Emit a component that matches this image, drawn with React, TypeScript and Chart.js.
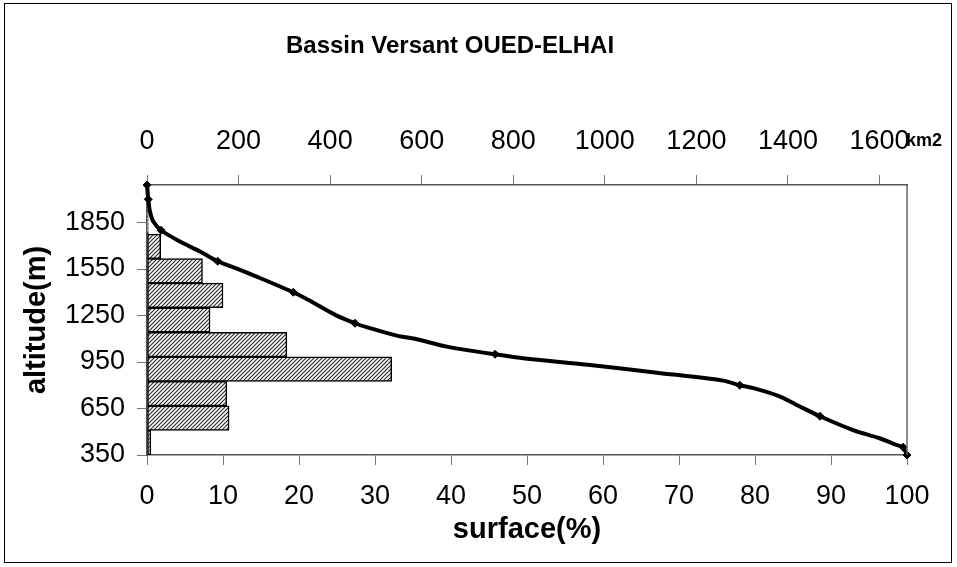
import { useEffect, useRef } from "react";
import { Chart, registerables } from "chart.js";

Chart.register(...registerables);

const FONT = '"Liberation Sans", Arial, Helvetica, sans-serif';

// Altitude classes (bars) and their share of the basin surface (%)
const classLabels = ["350-400", "400-600", "600-800", "800-1000", "1000-1200", "1200-1400", "1400-1600", "1600-1800", "1800-2000", "2000-2092", ""];
const classShare = [0.5, 10.8, 10.5, 32.2, 18.4, 8.3, 10.0, 7.3, 1.8, 0.17, null];

// Hypsometric curve: cumulative surface (%) vs altitude (m)
const cumSurface = [0, 0.17, 0.39, 0.83, 1.85, 4.34, 6.97, 9.3, 12.24, 13.55, 19.25, 21.2, 24.96, 27.37, 28.9, 32.86, 35.49, 39.43, 43.38, 45.8, 49.5, 58.3, 67.1, 75.8, 78.0, 79.8, 83.07, 85.5, 88.55, 92.9, 96.4, 98.6, 99.5, 100];
const altitudes = [2092, 2000, 1921, 1856, 1800, 1727, 1663, 1600, 1545, 1519, 1400, 1351, 1249, 1200, 1175, 1120, 1097, 1049, 1017, 1000, 974, 931, 881, 830, 800, 781, 731, 673, 600, 511, 458, 415, 400, 350];
const markerAltitudes = [2092, 2000, 1800, 1600, 1400, 1200, 1000, 800, 600, 400, 350];

// Axis ticks
const altitudeTicks = [350, 650, 950, 1250, 1550, 1850];
const surfaceTicksStep = 10;
const areaTicksStep = 200;
const totalAreaKm2 = 1660;
const altMin = 350;
const altMax = 2092;

const TITLE = "Bassin Versant OUED-ELHAI";

export default function App() {
  const ref = useRef<HTMLCanvasElement>(null);

  useEffect(() => {
    document.body.style.margin = "0";
    const canvas = ref.current!;
    const tile = document.createElement("canvas");
    tile.width = 4;
    tile.height = 4;
    const t = tile.getContext("2d")!;
    t.fillStyle = "#ffffff";
    t.fillRect(0, 0, 4, 4);
    t.strokeStyle = "#2e2e2e";
    t.lineWidth = 1.2;
    t.beginPath();
    t.moveTo(-1, 5);
    t.lineTo(5, -1);
    t.moveTo(-1, 1);
    t.lineTo(1, -1);
    t.moveTo(3, 5);
    t.lineTo(5, 3);
    t.stroke();
    const pattern = canvas.getContext("2d")!.createPattern(tile, "repeat");

    const deco = {
      id: "deco",
      beforeDraw(chart: any) {
        const ctx = chart.ctx;
        ctx.save();
        ctx.fillStyle = "#ffffff";
        ctx.fillRect(0, 0, chart.width, chart.height);
        ctx.strokeStyle = "#000000";
        ctx.lineWidth = 1;
        ctx.strokeRect(4.5, 3.5, 947, 559);
        ctx.restore();
      },
      afterDraw(chart: any) {
        const ctx = chart.ctx;
        const a = chart.chartArea;
        ctx.save();
        ctx.strokeStyle = "#666666";
        ctx.lineWidth = 1.5;
        ctx.beginPath();
        ctx.moveTo(a.right, a.top);
        ctx.lineTo(a.right, a.bottom);
        ctx.stroke();
        ctx.fillStyle = "#000000";
        ctx.textBaseline = "middle";
        ctx.textAlign = "center";
        ctx.font = `bold 24px ${FONT}`;
        ctx.fillText(TITLE, 450, 46);
        ctx.textAlign = "left";
        ctx.font = `bold 18px ${FONT}`;
        ctx.fillText("km2", 906, 141);
        ctx.restore();
      },
    };

    const tickFont = { family: FONT, size: 27 };
    const titleFont = { family: FONT, size: 29, weight: "bold" as const };
    const grid = { drawOnChartArea: false, drawTicks: true, tickLength: 10, color: "#777777", lineWidth: 1, offset: false };
    const border = { display: true, color: "#555555", width: 1.5 };

    const chart = new Chart(canvas, {
      type: "bar",
      data: {
        datasets: [
          {
            type: "line",
            data: cumSurface.map((x, i) => ({ x, y: altitudes[i] })),
            xAxisID: "x",
            yAxisID: "y",
            borderColor: "#000000",
            borderWidth: 4,
            tension: 0.3,
            fill: false,
            clip: false,
            order: 0,
            pointStyle: "rectRot",
            pointRadius: (ctx: any) => (markerAltitudes.includes(altitudes[ctx.dataIndex]) ? 4 : 0),
            pointBackgroundColor: "#000000",
            pointBorderColor: "#000000",
            pointBorderWidth: 1,
          } as any,
          {
            type: "bar",
            indexAxis: "y",
            data: classShare,
            xAxisID: "x",
            yAxisID: "yCat",
            backgroundColor: pattern as any,
            borderColor: "#000000",
            borderWidth: 1.5,
            borderSkipped: false,
            barPercentage: 1,
            categoryPercentage: 1,
            order: 1,
          } as any,
        ],
      },
      options: {
        responsive: false,
        animation: false,
        layout: { padding: { left: 0, right: 50, top: 0, bottom: 0 } },
        plugins: { legend: { display: false }, tooltip: { enabled: false }, title: { display: false } },
        scales: {
          x: {
            type: "linear",
            position: "bottom",
            offset: false,
            min: 0,
            max: 100,
            ticks: { stepSize: surfaceTicksStep, color: "#000", font: tickFont, padding: 15, maxRotation: 0, autoSkip: false, callback: (v: any) => String(v) },
            grid,
            border,
            title: { display: true, text: "surface(%)", color: "#000", font: titleFont, padding: { top: 0, bottom: 20 } },
            afterFit: (s: any) => {
              s.height = 112;
            },
          },
          x2: {
            type: "linear",
            position: "top",
            offset: false,
            min: 0,
            max: totalAreaKm2,
            ticks: { stepSize: areaTicksStep, includeBounds: false, color: "#000", font: tickFont, padding: 17, maxRotation: 0, autoSkip: false, callback: (v: any) => String(v) },
            grid,
            border,
            afterFit: (s: any) => {
              s.height = 185;
            },
          },
          y: {
            type: "linear",
            position: "left",
            offset: false,
            min: altMin,
            max: altMax,
            afterBuildTicks: (s: any) => {
              s.ticks = altitudeTicks.map((v) => ({ value: v }));
            },
            ticks: { color: "#000", font: tickFont, padding: 12, autoSkip: false, callback: (v: any) => String(v) },
            grid,
            border,
            title: { display: true, text: "altitude(m)", color: "#000", font: titleFont, padding: { top: 20, bottom: 0 } },
            afterFit: (s: any) => {
              s.width = 147;
            },
          },
          yCat: {
            type: "category",
            labels: classLabels,
            reverse: true,
            offset: true,
            display: false,
            grid: { offset: true },
          },
        },
      } as any,
      plugins: [deco],
    });

    return () => chart.destroy();
  }, []);

  return (
    <div style={{ width: 957, height: 567 }}>
      <canvas ref={ref} width={957} height={567} style={{ display: "block" }} />
    </div>
  );
}
